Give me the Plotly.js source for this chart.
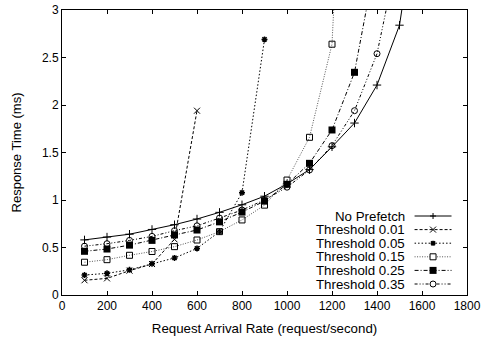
<!DOCTYPE html>
<html>
<head>
<meta charset="utf-8">
<script src="https://cdn.plot.ly/plotly-3.0.1.min.js"></script>
<style>html,body{margin:0;padding:0;background:#fff;}#chart{width:482px;height:341px;}</style>
</head>
<body>
<div id="chart"></div>
<script>
// Request arrival rate (request/second)
const rate = [100,200,300,400,500,600,700,800,900,1000,1100,1200,1300,1400,1500,1600];
// Response time (ms) per series
const noPrefetch = [0.58,0.61,0.64,0.69,0.74,0.80,0.87,0.95,1.04,1.17,1.32,1.56,1.81,2.21,2.84,4.4];
const thr001 = [0.155,0.175,0.256,0.326,0.586,1.94];
const thr005 = [0.21,0.228,0.265,0.33,0.39,0.49,0.667,1.077,2.69];
const thr015 = [0.345,0.372,0.418,0.458,0.509,0.579,0.667,0.79,0.946,1.21,1.66,2.64,7.5];
const thr025 = [0.46,0.484,0.525,0.575,0.632,0.684,0.77,0.873,0.988,1.165,1.386,1.737,2.344,3.6];
const thr035 = [0.514,0.54,0.575,0.617,0.677,0.728,0.81,0.895,1.0,1.135,1.316,1.572,1.94,2.54,3.67];
const seriesNames = ['No Prefetch','Threshold 0.01','Threshold 0.05','Threshold 0.15','Threshold 0.25','Threshold 0.35'];
const xTicks = [0,200,400,600,800,1000,1200,1400,1600,1800];
const yTicks = [0,0.5,1,1.5,2,2.5,3];

const FONT = 'Liberation Sans, Arial, Helvetica, sans-serif';
const styles = [
  {dash:'solid', color:'#000', symbol:'cross-thin-open', size:6, mlw:1, mcolor:'#000'},
  {dash:'3px,2px', color:'#000', symbol:'x-thin-open', size:6, mlw:1, mcolor:'#000'},
  {dash:'1.5px,2px', color:'#000', symbol:'asterisk-open', size:5, mlw:1.5, mcolor:'#000'},
  {dash:'1px,1.5px', color:'#555', symbol:'square-open', size:6, mlw:1, mcolor:'#000'},
  {dash:'4px,2px,1px,2px', color:'#000', symbol:'square', size:7, mlw:0, mcolor:'#000'},
  {dash:'3px,2px,1px,2px,1px,2px', color:'#000', symbol:'circle-open', size:6, mlw:1, mcolor:'#000'}
];
const ys = [noPrefetch, thr001, thr005, thr015, thr025, thr035];

const traces = ys.map((y,i)=>({
  type:'scatter', mode:'lines+markers', name:seriesNames[i],
  x: rate.slice(0,y.length), y:y,
  line:{color:styles[i].color, width:1, dash:styles[i].dash},
  marker:{symbol:styles[i].symbol, size:styles[i].size, color:styles[i].mcolor,
          line:{color:styles[i].mcolor, width:styles[i].mlw}},
  showlegend:false
}));

// custom compact legend (text annotations + key shapes)
const L = 62, R = 467.5, T = 10, B = 295;
const px2x = p => (p - L)/(R - L);
const px2y = p => (B - p)/(B - T);
const rowY = [216, 229.6, 243.2, 256.8, 270.4, 284];
const annotations = [];
const shapes = [];
seriesNames.forEach((n,i)=>{
  const yy = px2y(rowY[i]);
  annotations.push({xref:'paper', yref:'paper', x:px2x(406), y:yy, xanchor:'right', yanchor:'middle',
    text:n, showarrow:false, font:{family:FONT, size:13.3, color:'#000'}, borderpad:0});
  shapes.push({type:'line', xref:'paper', yref:'paper', x0:px2x(415), x1:px2x(452), y0:yy, y1:yy,
    line:{color:styles[i].color, width:1, dash:styles[i].dash}});
  const base = {xref:'paper', yref:'paper', xsizemode:'pixel', ysizemode:'pixel', xanchor:px2x(433.5), yanchor:yy};
  if (i===0) {
    shapes.push(Object.assign({type:'path', path:'M-3,0 L3,0 M0,-3 L0,3', line:{color:'#000', width:1}}, base));
  } else if (i===1) {
    shapes.push(Object.assign({type:'path', path:'M-3,-3 L3,3 M-3,3 L3,-3', line:{color:'#000', width:1}}, base));
  } else if (i===2) {
    shapes.push(Object.assign({type:'path', path:'M-2.5,0 L2.5,0 M0,-2.5 L0,2.5 M-2,-2 L2,2 M-2,2 L2,-2', line:{color:'#000', width:1.5}}, base));
  } else if (i===3) {
    shapes.push(Object.assign({type:'rect', x0:-3, x1:3, y0:-3, y1:3, fillcolor:'#fff', line:{color:'#000', width:1}}, base));
  } else if (i===4) {
    shapes.push(Object.assign({type:'rect', x0:-3.5, x1:3.5, y0:-3.5, y1:3.5, fillcolor:'#000', line:{color:'#000', width:0}}, base));
  } else {
    shapes.push(Object.assign({type:'circle', x0:-3, x1:3, y0:-3, y1:3, fillcolor:'#fff', line:{color:'#000', width:1}}, base));
  }
});

const axisCommon = {
  showline:true, linecolor:'#000', linewidth:1, mirror:'allticks',
  ticks:'inside', ticklen:4, tickwidth:1, tickcolor:'#000',
  showgrid:false, zeroline:false,
  tickfont:{family:FONT, size:12, color:'#000'}
};

const layout = {
  width:482, height:341,
  margin:{l:L, r:482-R, t:T, b:341-B},
  paper_bgcolor:'#fff', plot_bgcolor:'#fff',
  showlegend:false,
  xaxis: Object.assign({}, axisCommon, {
    range:[0,1800], tickmode:'array', tickvals:xTicks, ticktext:xTicks.map(String),
    title:{text:'Request Arrival Rate (request/second)', font:{family:FONT, size:13.3, color:'#000'}, standoff:11}
  }),
  yaxis: Object.assign({}, axisCommon, {
    range:[0,3], tickmode:'array', tickvals:yTicks, ticktext:yTicks.map(String),
    title:{text:'Response Time (ms)', font:{family:FONT, size:13, color:'#000'}, standoff:17}
  }),
  annotations: annotations,
  shapes: shapes
};

Plotly.newPlot('chart', traces, layout, {displayModeBar:false, staticPlot:true});
</script>
</body>
</html>
